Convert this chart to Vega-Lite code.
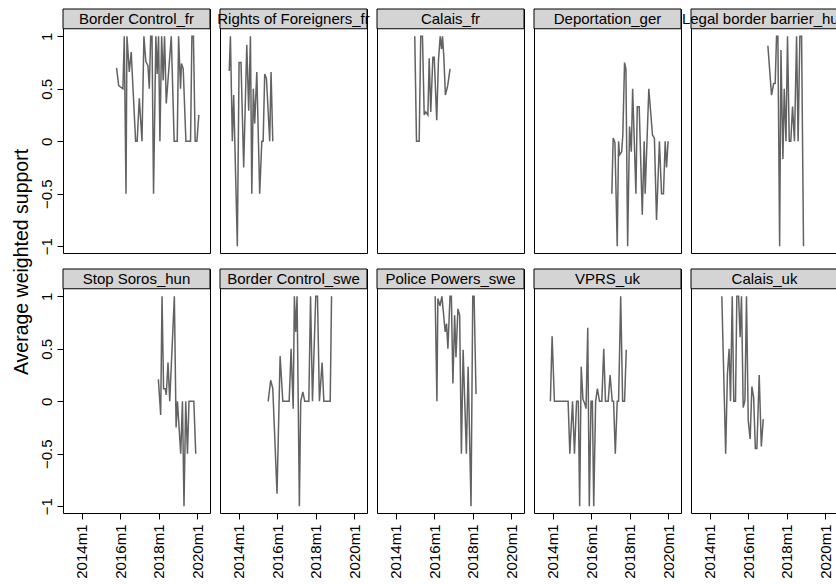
{
  "$schema": "https://vega.github.io/schema/vega-lite/v6.json",
  "padding": {"left": 5, "top": 7, "right": 0, "bottom": 0},
  "background": "white",
  "config": {
    "view": {"stroke": "black", "strokeWidth": 1},
    "font": "Liberation Sans",
    "header": {"labels": false, "title": null, "labelExpr": "''", "labelPadding": 0, "labelFontSize": 1},
    "axis": {"domain": false, "grid": false, "tickColor": "black", "tickSize": 6, "labelColor": "black", "labelFont": "Liberation Sans", "labelFontSize": 15, "titleColor": "black"}
  },
  "hconcat": [
    {
      "width": 34,
      "height": 506,
      "view": {"stroke": null},
      "data": {"values": [{}]},
      "mark": {"type": "text", "angle": 270, "fontSize": 19.5, "font": "Liberation Sans", "color": "black", "align": "center", "baseline": "middle"},
      "encoding": {"text": {"value": "Average weighted support"}}
    },
    {
      "data": {"values": [
        {"panel":"Border Control_fr","t":2015.81,"v":0.70},{"panel":"Border Control_fr","t":2015.92,"v":0.53},{"panel":"Border Control_fr","t":2016.14,"v":0.50},{"panel":"Border Control_fr","t":2016.21,"v":1},{"panel":"Border Control_fr","t":2016.30,"v":-0.5},{"panel":"Border Control_fr","t":2016.35,"v":1},{"panel":"Border Control_fr","t":2016.47,"v":0.66},{"panel":"Border Control_fr","t":2016.57,"v":0.85},{"panel":"Border Control_fr","t":2016.80,"v":0},{"panel":"Border Control_fr","t":2016.88,"v":0},{"panel":"Border Control_fr","t":2016.99,"v":0.41},{"panel":"Border Control_fr","t":2017.13,"v":0},{"panel":"Border Control_fr","t":2017.23,"v":1},{"panel":"Border Control_fr","t":2017.33,"v":0.76},{"panel":"Border Control_fr","t":2017.44,"v":0.72},{"panel":"Border Control_fr","t":2017.51,"v":0.5},{"panel":"Border Control_fr","t":2017.58,"v":1},{"panel":"Border Control_fr","t":2017.65,"v":1},{"panel":"Border Control_fr","t":2017.73,"v":-0.5},{"panel":"Border Control_fr","t":2017.85,"v":1},{"panel":"Border Control_fr","t":2017.92,"v":0.64},{"panel":"Border Control_fr","t":2017.99,"v":1},{"panel":"Border Control_fr","t":2018.06,"v":0},{"panel":"Border Control_fr","t":2018.15,"v":1},{"panel":"Border Control_fr","t":2018.23,"v":0.58},{"panel":"Border Control_fr","t":2018.30,"v":1},{"panel":"Border Control_fr","t":2018.39,"v":0.36},{"panel":"Border Control_fr","t":2018.65,"v":1},{"panel":"Border Control_fr","t":2018.80,"v":0},{"panel":"Border Control_fr","t":2018.96,"v":0},{"panel":"Border Control_fr","t":2019.03,"v":1},{"panel":"Border Control_fr","t":2019.13,"v":0.5},{"panel":"Border Control_fr","t":2019.18,"v":0.74},{"panel":"Border Control_fr","t":2019.27,"v":0.69},{"panel":"Border Control_fr","t":2019.41,"v":0},{"panel":"Border Control_fr","t":2019.65,"v":0},{"panel":"Border Control_fr","t":2019.72,"v":1},{"panel":"Border Control_fr","t":2019.80,"v":1},{"panel":"Border Control_fr","t":2019.89,"v":0},{"panel":"Border Control_fr","t":2019.98,"v":0},{"panel":"Border Control_fr","t":2020.08,"v":0.25},
        {"panel":"Rights of Foreigners_fr","t":2013.51,"v":0.67},{"panel":"Rights of Foreigners_fr","t":2013.57,"v":1},{"panel":"Rights of Foreigners_fr","t":2013.67,"v":0},{"panel":"Rights of Foreigners_fr","t":2013.74,"v":0.44},{"panel":"Rights of Foreigners_fr","t":2013.93,"v":-1},{"panel":"Rights of Foreigners_fr","t":2014.02,"v":0.75},{"panel":"Rights of Foreigners_fr","t":2014.12,"v":0.75},{"panel":"Rights of Foreigners_fr","t":2014.26,"v":-0.25},{"panel":"Rights of Foreigners_fr","t":2014.42,"v":0.92},{"panel":"Rights of Foreigners_fr","t":2014.52,"v":0.29},{"panel":"Rights of Foreigners_fr","t":2014.61,"v":1},{"panel":"Rights of Foreigners_fr","t":2014.68,"v":-0.5},{"panel":"Rights of Foreigners_fr","t":2014.76,"v":0.5},{"panel":"Rights of Foreigners_fr","t":2014.83,"v":0.17},{"panel":"Rights of Foreigners_fr","t":2014.94,"v":0.66},{"panel":"Rights of Foreigners_fr","t":2015.09,"v":-0.5},{"panel":"Rights of Foreigners_fr","t":2015.20,"v":0},{"panel":"Rights of Foreigners_fr","t":2015.27,"v":0},{"panel":"Rights of Foreigners_fr","t":2015.35,"v":0.64},{"panel":"Rights of Foreigners_fr","t":2015.44,"v":0.6},{"panel":"Rights of Foreigners_fr","t":2015.61,"v":0},{"panel":"Rights of Foreigners_fr","t":2015.68,"v":0.66},{"panel":"Rights of Foreigners_fr","t":2015.77,"v":0},
        {"panel":"Calais_fr","t":2014.99,"v":1},{"panel":"Calais_fr","t":2015.08,"v":0},{"panel":"Calais_fr","t":2015.22,"v":0},{"panel":"Calais_fr","t":2015.30,"v":1},{"panel":"Calais_fr","t":2015.39,"v":1},{"panel":"Calais_fr","t":2015.48,"v":0.25},{"panel":"Calais_fr","t":2015.56,"v":0.28},{"panel":"Calais_fr","t":2015.67,"v":0.25},{"panel":"Calais_fr","t":2015.74,"v":0.79},{"panel":"Calais_fr","t":2015.82,"v":0.28},{"panel":"Calais_fr","t":2015.93,"v":0.80},{"panel":"Calais_fr","t":2016.00,"v":0.80},{"panel":"Calais_fr","t":2016.13,"v":0.2},{"panel":"Calais_fr","t":2016.22,"v":0.77},{"panel":"Calais_fr","t":2016.31,"v":1},{"panel":"Calais_fr","t":2016.38,"v":0.88},{"panel":"Calais_fr","t":2016.43,"v":1},{"panel":"Calais_fr","t":2016.50,"v":0.8},{"panel":"Calais_fr","t":2016.58,"v":0.44},{"panel":"Calais_fr","t":2016.70,"v":0.53},{"panel":"Calais_fr","t":2016.82,"v":0.69},
        {"panel":"Deportation_ger","t":2017.07,"v":-0.5},{"panel":"Deportation_ger","t":2017.14,"v":0.03},{"panel":"Deportation_ger","t":2017.23,"v":-0.01},{"panel":"Deportation_ger","t":2017.35,"v":-1},{"panel":"Deportation_ger","t":2017.42,"v":0},{"panel":"Deportation_ger","t":2017.47,"v":-0.13},{"panel":"Deportation_ger","t":2017.58,"v":-0.1},{"panel":"Deportation_ger","t":2017.64,"v":0.06},{"panel":"Deportation_ger","t":2017.73,"v":0.75},{"panel":"Deportation_ger","t":2017.80,"v":0.69},{"panel":"Deportation_ger","t":2017.89,"v":-1},{"panel":"Deportation_ger","t":2017.99,"v":0.14},{"panel":"Deportation_ger","t":2018.08,"v":-0.1},{"panel":"Deportation_ger","t":2018.15,"v":0.5},{"panel":"Deportation_ger","t":2018.32,"v":-0.5},{"panel":"Deportation_ger","t":2018.39,"v":0.33},{"panel":"Deportation_ger","t":2018.49,"v":0.33},{"panel":"Deportation_ger","t":2018.65,"v":-0.7},{"panel":"Deportation_ger","t":2018.75,"v":0},{"panel":"Deportation_ger","t":2018.80,"v":-0.5},{"panel":"Deportation_ger","t":2018.99,"v":0.5},{"panel":"Deportation_ger","t":2019.18,"v":0.06},{"panel":"Deportation_ger","t":2019.28,"v":0.03},{"panel":"Deportation_ger","t":2019.39,"v":-0.75},{"panel":"Deportation_ger","t":2019.54,"v":0},{"panel":"Deportation_ger","t":2019.65,"v":-0.5},{"panel":"Deportation_ger","t":2019.75,"v":-0.5},{"panel":"Deportation_ger","t":2019.84,"v":0},{"panel":"Deportation_ger","t":2019.91,"v":-0.25},{"panel":"Deportation_ger","t":2019.99,"v":0},
        {"panel":"Legal border barrier_hun","t":2017.02,"v":0.91},{"panel":"Legal border barrier_hun","t":2017.21,"v":0.44},{"panel":"Legal border barrier_hun","t":2017.32,"v":0.55},{"panel":"Legal border barrier_hun","t":2017.40,"v":0.55},{"panel":"Legal border barrier_hun","t":2017.47,"v":1},{"panel":"Legal border barrier_hun","t":2017.54,"v":1},{"panel":"Legal border barrier_hun","t":2017.63,"v":-1},{"panel":"Legal border barrier_hun","t":2017.70,"v":0.87},{"panel":"Legal border barrier_hun","t":2017.80,"v":-0.17},{"panel":"Legal border barrier_hun","t":2017.87,"v":0.5},{"panel":"Legal border barrier_hun","t":2017.96,"v":0},{"panel":"Legal border barrier_hun","t":2018.04,"v":1},{"panel":"Legal border barrier_hun","t":2018.13,"v":0},{"panel":"Legal border barrier_hun","t":2018.21,"v":0},{"panel":"Legal border barrier_hun","t":2018.30,"v":0.33},{"panel":"Legal border barrier_hun","t":2018.40,"v":0},{"panel":"Legal border barrier_hun","t":2018.51,"v":1},{"panel":"Legal border barrier_hun","t":2018.59,"v":0},{"panel":"Legal border barrier_hun","t":2018.68,"v":1},{"panel":"Legal border barrier_hun","t":2018.77,"v":1},{"panel":"Legal border barrier_hun","t":2018.87,"v":-1},
        {"panel":"Stop Soros_hun","t":2017.98,"v":0.21},{"panel":"Stop Soros_hun","t":2018.10,"v":-0.13},{"panel":"Stop Soros_hun","t":2018.17,"v":1},{"panel":"Stop Soros_hun","t":2018.25,"v":0.12},{"panel":"Stop Soros_hun","t":2018.34,"v":0.12},{"panel":"Stop Soros_hun","t":2018.39,"v":0.06},{"panel":"Stop Soros_hun","t":2018.48,"v":0.37},{"panel":"Stop Soros_hun","t":2018.57,"v":0},{"panel":"Stop Soros_hun","t":2018.81,"v":1},{"panel":"Stop Soros_hun","t":2018.90,"v":-0.25},{"panel":"Stop Soros_hun","t":2018.97,"v":0},{"panel":"Stop Soros_hun","t":2019.14,"v":-0.5},{"panel":"Stop Soros_hun","t":2019.23,"v":0},{"panel":"Stop Soros_hun","t":2019.31,"v":-1},{"panel":"Stop Soros_hun","t":2019.40,"v":0},{"panel":"Stop Soros_hun","t":2019.49,"v":-0.5},{"panel":"Stop Soros_hun","t":2019.57,"v":0},{"panel":"Stop Soros_hun","t":2019.82,"v":0},{"panel":"Stop Soros_hun","t":2019.92,"v":-0.5},
        {"panel":"Border Control_swe","t":2015.53,"v":0},{"panel":"Border Control_swe","t":2015.66,"v":0.2},{"panel":"Border Control_swe","t":2015.77,"v":0.12},{"panel":"Border Control_swe","t":2015.99,"v":-0.88},{"panel":"Border Control_swe","t":2016.15,"v":0.43},{"panel":"Border Control_swe","t":2016.29,"v":0},{"panel":"Border Control_swe","t":2016.62,"v":0},{"panel":"Border Control_swe","t":2016.72,"v":0.5},{"panel":"Border Control_swe","t":2016.83,"v":-0.07},{"panel":"Border Control_swe","t":2016.89,"v":1},{"panel":"Border Control_swe","t":2016.96,"v":0.66},{"panel":"Border Control_swe","t":2017.03,"v":1},{"panel":"Border Control_swe","t":2017.15,"v":-1},{"panel":"Border Control_swe","t":2017.22,"v":0},{"panel":"Border Control_swe","t":2017.33,"v":0.09},{"panel":"Border Control_swe","t":2017.43,"v":0},{"panel":"Border Control_swe","t":2017.64,"v":0},{"panel":"Border Control_swe","t":2017.73,"v":1},{"panel":"Border Control_swe","t":2017.83,"v":0},{"panel":"Border Control_swe","t":2018.00,"v":1},{"panel":"Border Control_swe","t":2018.09,"v":1},{"panel":"Border Control_swe","t":2018.19,"v":0},{"panel":"Border Control_swe","t":2018.33,"v":0.37},{"panel":"Border Control_swe","t":2018.42,"v":0},{"panel":"Border Control_swe","t":2018.75,"v":0},{"panel":"Border Control_swe","t":2018.82,"v":1},
        {"panel":"Police Powers_swe","t":2016.05,"v":1},{"panel":"Police Powers_swe","t":2016.14,"v":0},{"panel":"Police Powers_swe","t":2016.19,"v":0.98},{"panel":"Police Powers_swe","t":2016.30,"v":0.91},{"panel":"Police Powers_swe","t":2016.40,"v":1},{"panel":"Police Powers_swe","t":2016.50,"v":0.8},{"panel":"Police Powers_swe","t":2016.57,"v":0.66},{"panel":"Police Powers_swe","t":2016.64,"v":0.74},{"panel":"Police Powers_swe","t":2016.71,"v":0.5},{"panel":"Police Powers_swe","t":2016.82,"v":1},{"panel":"Police Powers_swe","t":2016.89,"v":1},{"panel":"Police Powers_swe","t":2016.97,"v":0.17},{"panel":"Police Powers_swe","t":2017.06,"v":0.82},{"panel":"Police Powers_swe","t":2017.13,"v":0.42},{"panel":"Police Powers_swe","t":2017.23,"v":0.88},{"panel":"Police Powers_swe","t":2017.32,"v":0.82},{"panel":"Police Powers_swe","t":2017.41,"v":-0.5},{"panel":"Police Powers_swe","t":2017.50,"v":0.49},{"panel":"Police Powers_swe","t":2017.67,"v":-0.5},{"panel":"Police Powers_swe","t":2017.76,"v":0.33},{"panel":"Police Powers_swe","t":2017.91,"v":-1},{"panel":"Police Powers_swe","t":2018.00,"v":1},{"panel":"Police Powers_swe","t":2018.07,"v":1},{"panel":"Police Powers_swe","t":2018.17,"v":0.07},
        {"panel":"VPRS_uk","t":2013.88,"v":0},{"panel":"VPRS_uk","t":2013.97,"v":0.62},{"panel":"VPRS_uk","t":2014.09,"v":0},{"panel":"VPRS_uk","t":2014.80,"v":0},{"panel":"VPRS_uk","t":2014.89,"v":-0.5},{"panel":"VPRS_uk","t":2015.03,"v":0},{"panel":"VPRS_uk","t":2015.13,"v":-0.5},{"panel":"VPRS_uk","t":2015.24,"v":0},{"panel":"VPRS_uk","t":2015.33,"v":0},{"panel":"VPRS_uk","t":2015.40,"v":-1},{"panel":"VPRS_uk","t":2015.48,"v":0.33},{"panel":"VPRS_uk","t":2015.57,"v":0.02},{"panel":"VPRS_uk","t":2015.66,"v":-0.02},{"panel":"VPRS_uk","t":2015.73,"v":-0.07},{"panel":"VPRS_uk","t":2015.82,"v":0.7},{"panel":"VPRS_uk","t":2015.90,"v":-1},{"panel":"VPRS_uk","t":2015.99,"v":0},{"panel":"VPRS_uk","t":2016.06,"v":0},{"panel":"VPRS_uk","t":2016.13,"v":-1},{"panel":"VPRS_uk","t":2016.23,"v":0},{"panel":"VPRS_uk","t":2016.32,"v":0.12},{"panel":"VPRS_uk","t":2016.43,"v":0},{"panel":"VPRS_uk","t":2016.55,"v":0},{"panel":"VPRS_uk","t":2016.65,"v":0.5},{"panel":"VPRS_uk","t":2016.74,"v":0},{"panel":"VPRS_uk","t":2016.88,"v":0},{"panel":"VPRS_uk","t":2016.98,"v":0.25},{"panel":"VPRS_uk","t":2017.09,"v":0},{"panel":"VPRS_uk","t":2017.16,"v":0},{"panel":"VPRS_uk","t":2017.25,"v":-0.5},{"panel":"VPRS_uk","t":2017.35,"v":0},{"panel":"VPRS_uk","t":2017.42,"v":0},{"panel":"VPRS_uk","t":2017.53,"v":1},{"panel":"VPRS_uk","t":2017.63,"v":0},{"panel":"VPRS_uk","t":2017.73,"v":0},{"panel":"VPRS_uk","t":2017.82,"v":0.49},
        {"panel":"Calais_uk","t":2014.63,"v":1},{"panel":"Calais_uk","t":2014.83,"v":-0.5},{"panel":"Calais_uk","t":2014.92,"v":0.26},{"panel":"Calais_uk","t":2015.01,"v":0.5},{"panel":"Calais_uk","t":2015.08,"v":0},{"panel":"Calais_uk","t":2015.17,"v":1},{"panel":"Calais_uk","t":2015.25,"v":0},{"panel":"Calais_uk","t":2015.34,"v":0},{"panel":"Calais_uk","t":2015.41,"v":1},{"panel":"Calais_uk","t":2015.50,"v":1},{"panel":"Calais_uk","t":2015.58,"v":0.61},{"panel":"Calais_uk","t":2015.65,"v":1},{"panel":"Calais_uk","t":2015.74,"v":-0.06},{"panel":"Calais_uk","t":2015.83,"v":0.01},{"panel":"Calais_uk","t":2015.91,"v":1},{"panel":"Calais_uk","t":2016.00,"v":-0.18},{"panel":"Calais_uk","t":2016.10,"v":-0.36},{"panel":"Calais_uk","t":2016.19,"v":0.14},{"panel":"Calais_uk","t":2016.28,"v":0.04},{"panel":"Calais_uk","t":2016.37,"v":-0.45},{"panel":"Calais_uk","t":2016.45,"v":-0.45},{"panel":"Calais_uk","t":2016.57,"v":0.25},{"panel":"Calais_uk","t":2016.68,"v":-0.43},{"panel":"Calais_uk","t":2016.78,"v":-0.17}
      ]},
      "columns": 5,
      "bounds": "flush",
      "spacing": {"row": 16, "column": 10},
      "facet": {
        "field": "panel",
        "type": "nominal",
        "sort": ["Border Control_fr", "Rights of Foreigners_fr", "Calais_fr", "Deportation_ger", "Legal border barrier_hun", "Stop Soros_hun", "Border Control_swe", "Police Powers_swe", "VPRS_uk", "Calais_uk"],
        "header": {"labels": false, "title": null, "labelExpr": "''", "labelPadding": 0, "labelFontSize": 1}
      },
      "spec": {
        "width": 147,
        "height": 244,
        "layer": [
          {
            "mark": {"type": "line", "color": "#626262", "strokeWidth": 1.5},
            "encoding": {
              "x": {"field": "t", "type": "quantitative", "scale": {"domain": [2013.03, 2020.66], "nice": false, "zero": false},
                    "axis": {"title": null, "values": [2014, 2016, 2018, 2020], "labelExpr": "datum.value + 'm1'", "labelAngle": 270, "labelPadding": 5, "labelFlush": false, "labelOverlap": false}},
              "y": {"field": "v", "type": "quantitative", "scale": {"domain": [-1.064, 1.26], "nice": false, "zero": false},
                    "axis": {"title": null, "values": [-1, -0.5, 0, 0.5, 1], "format": "~g", "labelAngle": 270, "labelPadding": 3, "minExtent": 23, "maxExtent": 23, "labelFlush": false, "labelOverlap": false}}
            }
          },
          {
            "transform": [{"aggregate": [{"op": "count", "as": "n"}], "groupby": ["panel"]}],
            "mark": {"type": "rect", "fill": "#d4d4d4", "stroke": "black", "strokeWidth": 1},
            "encoding": {
              "x": {"datum": 2013.03, "type": "quantitative"},
              "x2": {"datum": 2020.66},
              "y": {"datum": 1.072, "type": "quantitative"},
              "y2": {"datum": 1.26}
            }
          },
          {
            "transform": [{"aggregate": [{"op": "count", "as": "n"}], "groupby": ["panel"]}],
            "mark": {"type": "text", "fontSize": 15, "font": "Liberation Sans", "color": "black", "align": "center", "baseline": "middle"},
            "encoding": {
              "x": {"datum": 2016.845, "type": "quantitative"},
              "y": {"datum": 1.168, "type": "quantitative"},
              "text": {"field": "panel", "type": "nominal"}
            }
          }
        ]
      }
    }
  ],
  "spacing": 0
}
